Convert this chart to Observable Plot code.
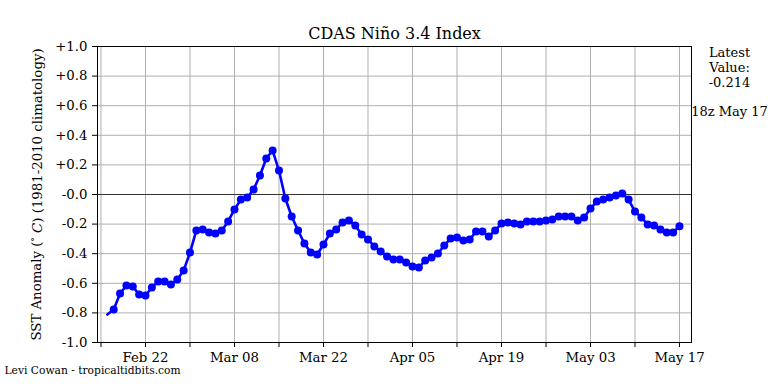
<!DOCTYPE html>
<html><head><meta charset="utf-8">
<script src="https://cdn.jsdelivr.net/npm/d3@7"></script>
<script src="https://cdn.jsdelivr.net/npm/@observablehq/plot@0.6"></script>
<style>body{margin:0;background:#fff} svg{display:block}</style>
</head><body><div id="chart"></div>
<script>
const startDate = "2025-02-16";
const anomalies = [
  -0.811, -0.777, -0.669, -0.615, -0.622, -0.676, -0.682, -0.628, -0.588, -0.588,
  -0.608, -0.574, -0.514, -0.392, -0.243, -0.236, -0.257, -0.264, -0.243, -0.182,
  -0.101, -0.034, -0.020, 0.034, 0.128, 0.243, 0.297, 0.162, -0.027, -0.149,
  -0.243, -0.331, -0.392, -0.405, -0.338, -0.264, -0.236, -0.189, -0.176, -0.209,
  -0.270, -0.304, -0.351, -0.385, -0.419, -0.439, -0.439, -0.459, -0.486, -0.493,
  -0.446, -0.426, -0.399, -0.345, -0.297, -0.291, -0.311, -0.304, -0.250, -0.250,
  -0.284, -0.243, -0.196, -0.189, -0.196, -0.203, -0.182, -0.182, -0.182, -0.176,
  -0.169, -0.149, -0.149, -0.149, -0.176, -0.155, -0.095, -0.047, -0.034, -0.020,
  -0.007, 0.007, -0.034, -0.115, -0.155, -0.203, -0.209, -0.236, -0.257, -0.257,
  -0.214
];
const tickDates = ["2025-02-15","2025-02-22","2025-03-01","2025-03-08","2025-03-15","2025-03-22",
  "2025-03-29","2025-04-05","2025-04-12","2025-04-19","2025-04-26","2025-05-03","2025-05-10","2025-05-17"];
const labeledTicks = ["2025-02-22","2025-03-08","2025-03-22","2025-04-05","2025-04-19","2025-05-03","2025-05-17"];
const yTicks = [-1.0,-0.8,-0.6,-0.4,-0.2,0,0.2,0.4,0.6,0.8,1.0];
const title = "CDAS Niño 3.4 Index";
const yLabelParts = ["SST Anomaly (", "°", " C", ") (1981-2010 climatology)"];
const latestLabel = "Latest\nValue:\n-0.214";
const timeLabel = "18z May 17";
const credit = "Levi Cowan - tropicaltidbits.com";

const font = "DejaVu Serif";
const start = new Date(startDate + "T00:00Z");
const data = anomalies.map((v, i) => ({date: d3.utcDay.offset(start, i), value: v}));
const ticks = tickDates.map(s => new Date(s + "T00:00Z"));
const labeledSet = new Set(labeledTicks);
const fmt = d3.utcFormat("%b %d");
const isoDay = d3.utcFormat("%Y-%m-%d");

const chart = Plot.plot({
  width: 768, height: 384,
  marginLeft: 97, marginRight: 77, marginTop: 46, marginBottom: 42,
  style: {fontFamily: font, fontSize: "13.3px", color: "black", background: "white"},
  x: {type: "utc", domain: [new Date("2025-02-14T10:48Z"), new Date("2025-05-18T21:20Z")]},
  y: {domain: [-1, 1]},
  marks: [
    Plot.gridX(ticks, {stroke: "#b0b0b0", strokeOpacity: 1, strokeWidth: 1}),
    Plot.gridY(yTicks, {stroke: "#b0b0b0", strokeOpacity: 1, strokeWidth: 1}),
    Plot.ruleY([0], {stroke: "#333", strokeWidth: 1.2}),
    Plot.frame({stroke: "black", strokeWidth: 1}),
    Plot.axisX({ticks: ticks, tickFormat: d => labeledSet.has(isoDay(d)) ? fmt(d) : "", tickSize: 5, tickPadding: 5, label: null, fontSize: 13.3, fontFamily: font}),
    Plot.axisY({ticks: yTicks, tickFormat: d => (d > 0 ? "+" : "-") + Math.abs(d).toFixed(1), tickSize: 5, tickPadding: 5,
      label: yLabelParts.join(""), labelAnchor: "center", labelArrow: "none", labelOffset: 66, fontSize: 13.3, fontFamily: font}),
    Plot.line(data, {x: "date", y: "value", stroke: "#0000ff", strokeWidth: 2.6}),
    Plot.dot(data.slice(1), {x: "date", y: "value", r: 4, fill: "#0000ff", stroke: "none"}),
    Plot.text([title], {frameAnchor: "top", dy: -13, lineAnchor: "middle", fontSize: 16, fontFamily: font, fill: "black"}),
    Plot.text([latestLabel], {frameAnchor: "top-right", dx: 38, dy: 21, lineAnchor: "middle", lineHeight: 1.16, textAnchor: "middle", fontSize: 13, fontFamily: font, fill: "black"}),
    Plot.text([timeLabel], {frameAnchor: "top-right", dx: 38, dy: 65, lineAnchor: "middle", textAnchor: "middle", fontSize: 13, fontFamily: font, fill: "black"}),
    Plot.text([credit], {frameAnchor: "bottom-left", dx: -93, dy: 28, lineAnchor: "middle", textAnchor: "start", fontSize: 10.7, fontFamily: font, fill: "black"})
  ]
});
// style the y label: small raised degree sign and italic C
d3.select(chart).selectAll("text").filter(function() { return this.textContent === yLabelParts.join(""); })
  .each(function() {
    const t = d3.select(this);
    t.text(null);
    t.append("tspan").text(yLabelParts[0]);
    t.append("tspan").attr("font-size", "9px").attr("dy", "-0.35em").text(yLabelParts[1]);
    t.append("tspan").attr("dy", "0.35em").attr("font-style", "italic").text(yLabelParts[2]);
    t.append("tspan").text(yLabelParts[3]);
  });
document.getElementById("chart").appendChild(chart);
</script>
</body></html>
